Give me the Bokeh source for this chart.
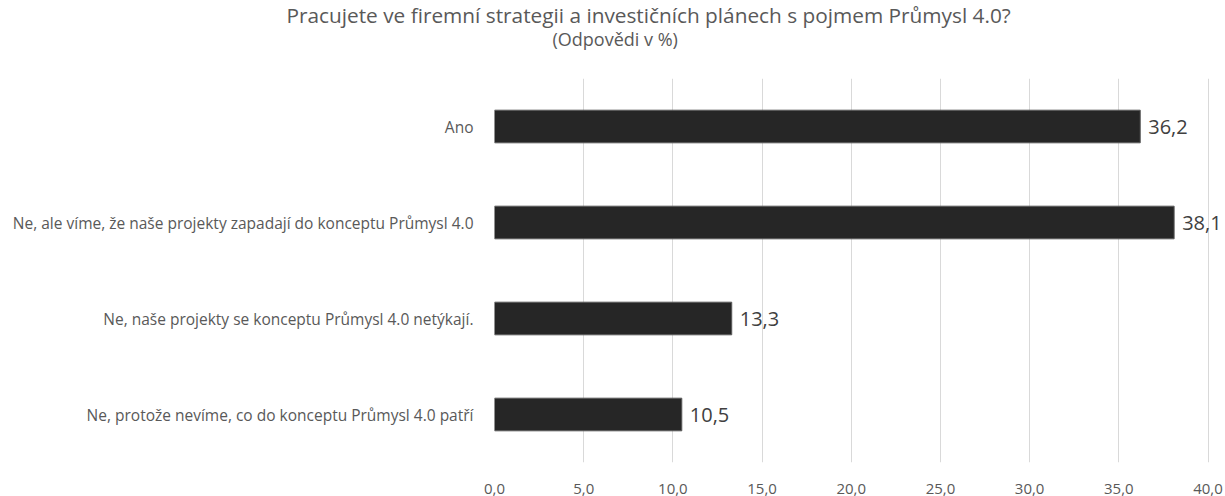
from bokeh.plotting import figure
from bokeh.models import ColumnDataSource, Range1d, FixedTicker, LabelSet, Title
from bokeh.core.properties import value
from bokeh.embed import file_html
from bokeh.resources import INLINE

categories = [
    "Ano",
    "Ne, ale víme, že naše projekty zapadají do konceptu Průmysl 4.0",
    "Ne, naše projekty se konceptu Průmysl 4.0 netýkají.",
    "Ne, protože nevíme, co do konceptu Průmysl 4.0 patří",
]
values = [36.2, 38.1, 13.3, 10.5]
value_labels = ["36,2", "38,1", "13,3", "10,5"]
ticks = [0, 5, 10, 15, 20, 25, 30, 35, 40]
tick_labels = ["0,0", "5,0", "10,0", "15,0", "20,0", "25,0", "30,0", "35,0", "40,0"]
title_line1 = "Pracujete ve firemní strategii a investičních plánech s pojmem Průmysl 4.0?"
title_line2 = "(Odpovědi v %)"

FONT = "Open Sans"
TXT = "#595959"

src = ColumnDataSource(dict(cat=categories, val=values, lab=value_labels))

p = figure(
    width=1225, height=496,
    y_range=list(reversed(categories)),
    x_range=Range1d(0, 40.98),
    output_backend="svg", toolbar_location=None,
    min_border_left=494, min_border_right=0,
    min_border_top=78, min_border_bottom=31,
)
p.outline_line_color = None
p.background_fill_color = "white"
p.border_fill_color = "white"

p.hbar(y="cat", right="val", left=0, height=0.34, source=src,
       fill_color="#262626", line_color="#5a5a5a", line_width=1)

p.add_layout(LabelSet(x="val", y="cat", text="lab", source=src,
                      x_offset=8, text_baseline="middle",
                      text_font=value(FONT), text_font_size=value("20px"),
                      text_color="#404040"))

p.xaxis.ticker = FixedTicker(ticks=ticks)
p.xaxis.major_label_overrides = {t: l for t, l in zip(ticks, tick_labels)}
p.xaxis.axis_line_color = None
p.xaxis.major_tick_line_color = None
p.xaxis.minor_tick_line_color = None
p.xaxis.major_label_standoff = 15
p.xaxis.major_label_text_font = FONT
p.xaxis.major_label_text_font_size = "15px"
p.xaxis.major_label_text_color = TXT

p.yaxis.axis_line_color = None
p.yaxis.major_tick_line_color = None
p.yaxis.minor_tick_line_color = None
p.yaxis.major_label_standoff = 15
p.yaxis.major_label_text_font = FONT
p.yaxis.major_label_text_font_size = "15.5px"
p.yaxis.major_label_text_color = TXT

p.xgrid.grid_line_color = "#d9d9d9"
p.xgrid.grid_line_width = 1
p.ygrid.grid_line_color = None

p.add_layout(Title(text=title_line2 + "\n", align="left", offset=58, standoff=7,
                   text_font=FONT, text_font_size="18px", text_color=TXT,
                   text_font_style="normal"), "above")
p.add_layout(Title(text=title_line1, align="left", offset=-208, standoff=-14,
                   text_font=FONT, text_font_size="20.8px", text_color=TXT,
                   text_font_style="normal"), "above")

open("out.html", "w").write(file_html(p, INLINE))
